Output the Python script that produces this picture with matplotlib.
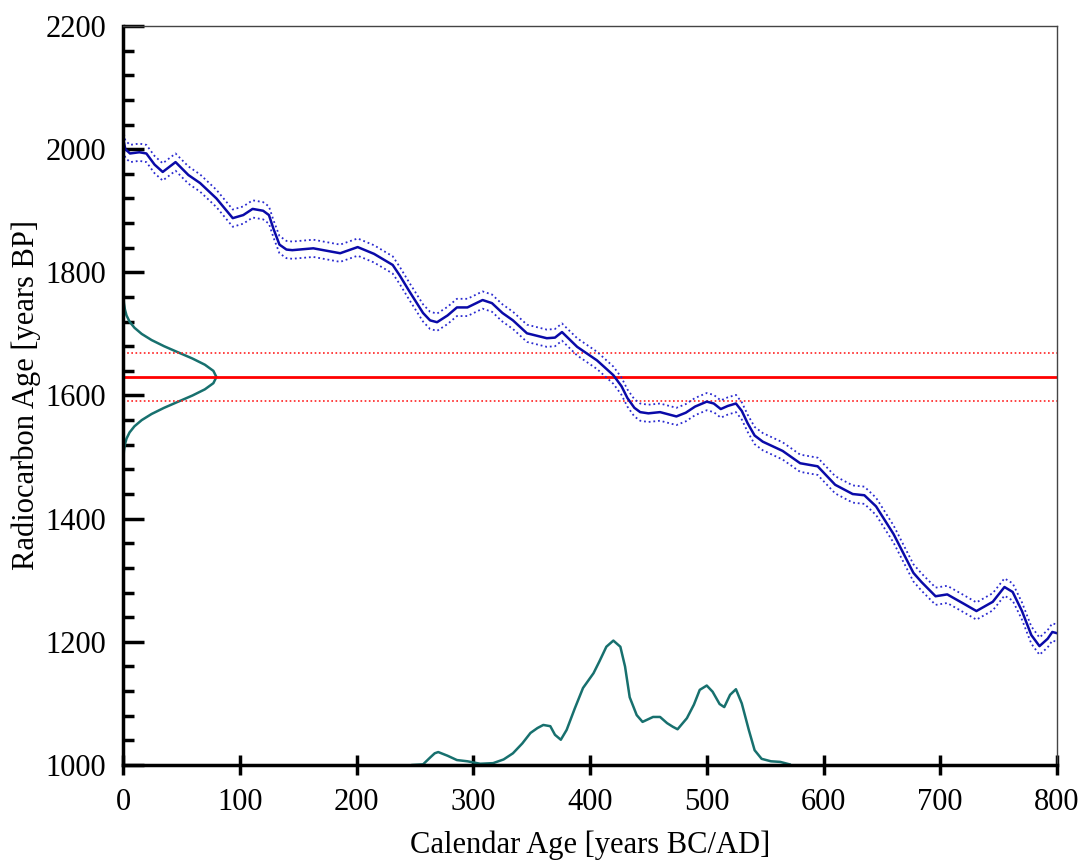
import matplotlib.pyplot as plt
from matplotlib.ticker import MultipleLocator

plt.rcParams['font.family'] = ['Liberation Serif', 'DejaVu Serif']

# calibration curve (calendar age, radiocarbon age)
cal_x = [0, 2, 6, 14, 20, 27, 34, 45, 56, 66, 80, 94, 103, 111, 120, 125, 129, 134, 140,
         145, 163, 186, 201, 215, 231, 237, 245, 257, 263, 269, 278, 286, 295, 308, 316,
         325, 334, 346, 363, 370, 376, 389, 406, 420, 427, 432, 438, 443, 450, 460, 474,
         482, 490, 500, 506, 512, 518, 525, 530, 535, 541, 548, 565, 580, 595, 610, 625,
         635, 645, 660, 677, 684, 696, 706, 720, 731, 745, 755, 762, 770, 778, 785, 792,
         796, 800]
cal_y = [2018, 2000, 1993, 1995, 1993, 1975, 1963, 1979, 1958, 1945, 1920, 1888, 1893,
         1903, 1900, 1893, 1870, 1845, 1837, 1836, 1839, 1831, 1841, 1830, 1812, 1795,
         1770, 1734, 1722, 1719, 1730, 1743, 1743, 1755, 1750, 1734, 1722, 1701, 1693,
         1694, 1703, 1679, 1657, 1633, 1615, 1596, 1580, 1573, 1571, 1573, 1566, 1572,
         1582, 1590, 1587, 1578, 1583, 1587, 1575, 1555, 1535, 1525, 1510, 1490, 1485,
         1455, 1440, 1438, 1420, 1375, 1312, 1297, 1274, 1277, 1262, 1250, 1265, 1289,
         1281, 1250, 1211, 1193, 1205, 1216, 1214]
cal_err = 14

# measured radiocarbon age
c14_age = 1630
c14_err = 39

# measurement distribution drawn along the y axis
meas_y = [1470, 1480, 1490, 1500, 1510, 1520, 1530, 1540, 1550, 1560, 1570, 1580, 1590,
          1600, 1610, 1620, 1630, 1640, 1650, 1660, 1670, 1680, 1690, 1700, 1710, 1720,
          1730, 1740, 1750, 1760, 1770, 1780, 1790]
meas_w = [0.0, 0.05, 0.15, 0.4, 0.8, 1.6, 3.0, 5.6, 9.8, 16.0, 24.5, 35.2, 47.3, 59.5,
          70.1, 77.4, 80.0, 77.4, 70.1, 59.5, 47.3, 35.2, 24.5, 16.0, 9.8, 5.6, 3.0,
          1.6, 0.8, 0.4, 0.15, 0.05, 0.0]

# calibrated probability distribution drawn along the x axis
prob_x = [248, 257, 263, 267, 270, 278, 286, 295, 306, 317, 326, 334, 342, 349, 355,
          360, 366, 370, 375, 380, 387, 394, 403, 408, 414, 420, 426, 430, 434, 440,
          445, 454, 460, 466, 471, 475, 483, 489, 494, 500, 505, 511, 515, 520, 525,
          530, 536, 541, 547, 555, 563, 571]
prob_y = [1000, 1001, 1012, 1019, 1021, 1015, 1008, 1006, 1002, 1003, 1009, 1019, 1035,
          1052, 1060, 1065, 1063, 1049, 1041, 1057, 1092, 1125, 1149, 1168, 1192, 1202,
          1192, 1160, 1110, 1081, 1070, 1078, 1078, 1068, 1062, 1058, 1076, 1098, 1122,
          1129, 1119, 1099, 1094, 1114, 1123, 1100, 1057, 1024, 1010, 1006, 1005, 1001]

fig = plt.figure(figsize=(10.8, 8.64), dpi=100)
ax = fig.add_axes([0.1139, 0.1146, 0.8648, 0.8553])

teal = '#17706e'
ax.plot(meas_w, meas_y, color=teal, lw=1.8)
ax.plot(prob_x, prob_y, color=teal, lw=1.8)

ax.axhline(c14_age, color='#ff0000', lw=2.0)
ax.axhline(c14_age + c14_err, color='#ff2020', lw=1.2, ls=(0, (1, 1.5)))
ax.axhline(c14_age - c14_err, color='#ff2020', lw=1.2, ls=(0, (1, 1.5)))

ax.plot(cal_x, cal_y, color='#0a0aa8', lw=1.8)
ax.plot(cal_x, [v + cal_err for v in cal_y], color='#2a2ad0', lw=1.3, ls=(0, (1, 1.6)))
ax.plot(cal_x, [v - cal_err for v in cal_y], color='#2a2ad0', lw=1.3, ls=(0, (1, 1.6)))

ax.set_xlim(0, 800)
ax.set_ylim(1000, 2200)
ax.xaxis.set_major_locator(MultipleLocator(100))
ax.yaxis.set_major_locator(MultipleLocator(200))
ax.yaxis.set_minor_locator(MultipleLocator(40))

ax.tick_params(axis='x', which='major', direction='inout', length=15, width=2.5,
               labelsize=22, pad=9)
ax.tick_params(axis='y', which='major', direction='in', length=15, width=2.5,
               labelsize=22, pad=12)
ax.tick_params(axis='y', which='minor', direction='in', length=8, width=2.5)

ax.spines['left'].set_linewidth(2.5)
ax.spines['bottom'].set_linewidth(2.5)
for s in ['top', 'right']:
    ax.spines[s].set_linewidth(1.0)
    ax.spines[s].set_color('#444444')

ax.set_xlabel('Calendar Age [years BC/AD]', fontsize=22, labelpad=10)
ax.set_ylabel('Radiocarbon Age [years BP]', fontsize=22, labelpad=3)

fig.savefig('out.png', dpi=100)
